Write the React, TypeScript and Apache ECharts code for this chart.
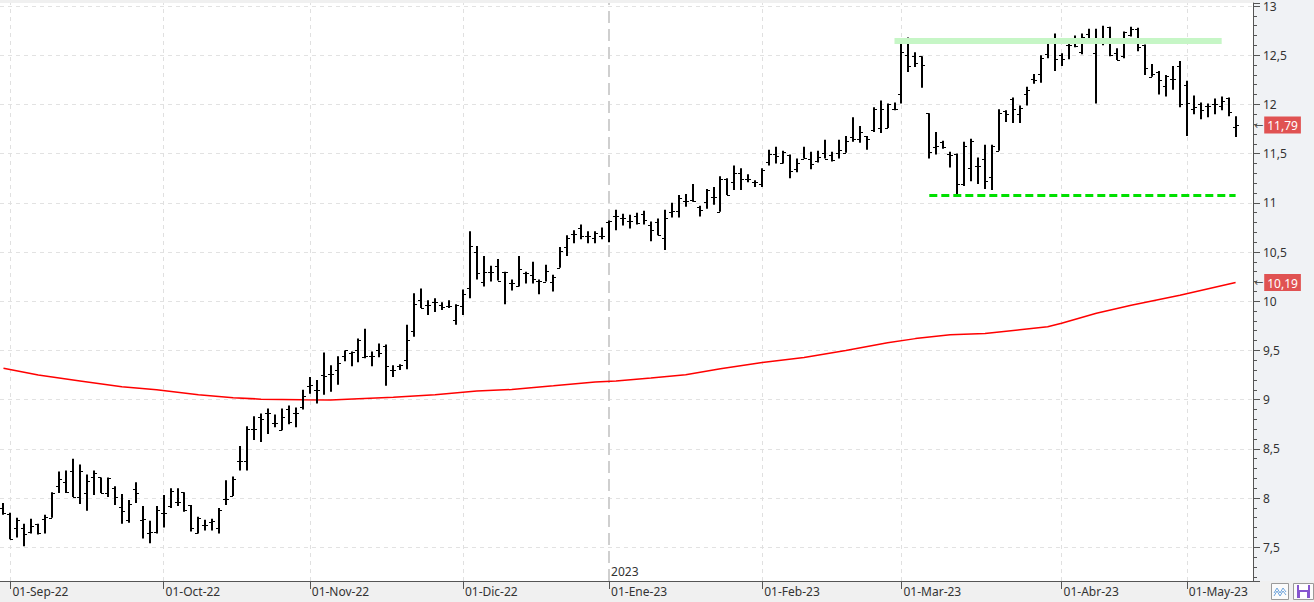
import { useEffect, useRef } from 'react';
import * as echarts from 'echarts';

// ---- OHLC data (one bar per trading day, starting 2022-08-31) ----
const opens = [7.9,7.84,7.7,7.7,7.66,7.74,7.79,7.8,8.12,8.16,8.27,8.01,8.05,8.21,8.21,8.05,8.1,7.91,7.78,8.09,7.78,7.64,7.66,7.85,7.92,7.96,8.06,7.93,7.64,7.73,7.76,7.7,7.99,8.02,8.38,8.38,8.7,8.82,8.86,8.76,8.69,8.9,8.86,8.93,9.14,9.1,9.25,9.26,9.3,9.44,9.47,9.5,9.43,9.44,9.5,9.55,9.3,9.34,9.4,9.7,10.01,9.96,9.99,9.96,9.95,9.81,9.95,10.13,10.5,10.2,10.3,10.36,10.3,10.19,10.15,10.29,10.27,10.21,10.2,10.2,10.34,10.55,10.68,10.74,10.66,10.64,10.66,10.81,10.87,10.85,10.82,10.87,10.89,10.77,10.81,10.64,10.91,10.92,11.02,11.03,10.96,11.01,11.06,10.91,11.24,11.21,11.3,11.24,11.21,11.19,11.41,11.5,11.4,11.49,11.34,11.45,11.45,11.43,11.51,11.49,11.51,11.51,11.67,11.65,11.68,11.74,11.76,11.76,11.95,12.11,12.5,12.49,12.49,11.91,11.57,11.62,11.5,11.5,11.19,11.35,11.37,11.45,11.26,11.53,11.93,12.06,11.9,12.11,12.26,12.31,12.51,12.66,12.5,12.6,12.64,12.53,12.72,12.52,12.65,12.79,12.52,12.49,12.71,12.77,12.6,12.28,12.33,12.19,12.26,12.39,12.2,11.95,12.0,11.98,12.0,11.98,12.07,11.77];
const highs = [7.95,7.85,7.8,7.74,7.79,7.74,7.83,8.06,8.27,8.28,8.4,8.34,8.24,8.28,8.21,8.21,8.12,8.04,7.98,8.16,7.92,7.77,7.92,8.03,8.1,8.1,8.06,7.93,7.81,7.78,7.79,7.9,8.18,8.22,8.53,8.73,8.83,8.86,8.91,8.85,8.91,8.94,8.92,9.1,9.23,9.2,9.48,9.35,9.44,9.5,9.49,9.62,9.72,9.49,9.57,9.56,9.35,9.36,9.76,10.08,10.13,10.01,10.03,9.99,10.01,9.97,10.12,10.71,10.56,10.46,10.36,10.43,10.3,10.22,10.46,10.3,10.4,10.22,10.37,10.27,10.55,10.67,10.72,10.78,10.71,10.71,10.75,10.82,10.93,10.89,10.88,10.9,10.92,10.81,10.84,10.93,11.0,11.08,11.09,11.19,10.97,11.14,11.16,11.27,11.25,11.38,11.35,11.29,11.23,11.35,11.54,11.57,11.53,11.49,11.45,11.57,11.52,11.53,11.64,11.52,11.64,11.68,11.87,11.78,11.68,11.97,12.04,12.01,12.02,12.63,12.68,12.53,12.49,11.91,11.72,11.63,11.52,11.5,11.62,11.65,11.46,11.59,11.59,11.95,11.94,12.07,11.99,12.18,12.31,12.5,12.67,12.72,12.52,12.64,12.7,12.72,12.77,12.77,12.8,12.79,12.57,12.74,12.79,12.78,12.61,12.41,12.34,12.3,12.39,12.44,12.24,12.09,12.02,12.01,12.06,12.08,12.07,11.88];
const lows = [7.83,7.58,7.6,7.51,7.64,7.63,7.64,7.8,8.05,8.05,8.01,7.94,7.87,8.03,8.05,8.01,7.93,7.74,7.75,7.95,7.59,7.54,7.64,7.7,7.9,7.92,7.86,7.66,7.64,7.67,7.67,7.64,7.93,8.02,8.28,8.28,8.59,8.57,8.65,8.72,8.69,8.75,8.72,8.9,9.06,8.96,9.05,9.08,9.15,9.39,9.34,9.38,9.42,9.34,9.43,9.14,9.23,9.3,9.31,9.64,9.93,9.86,9.89,9.91,9.93,9.76,9.86,10.03,10.22,10.15,10.2,10.21,9.97,10.11,10.15,10.18,10.18,10.07,10.2,10.1,10.34,10.46,10.59,10.63,10.59,10.59,10.63,10.6,10.72,10.77,10.74,10.78,10.78,10.61,10.67,10.52,10.85,10.85,10.96,11.01,10.86,10.94,10.98,10.91,11.08,11.13,11.13,11.21,11.16,11.16,11.38,11.4,11.4,11.25,11.31,11.45,11.34,11.41,11.45,11.42,11.45,11.51,11.62,11.61,11.54,11.72,11.71,11.76,11.94,12.01,12.33,12.38,12.17,11.45,11.49,11.55,11.36,11.08,11.17,11.22,11.19,11.14,11.13,11.53,11.82,11.81,11.81,11.99,12.21,12.22,12.47,12.34,12.39,12.46,12.58,12.51,12.65,12.01,12.6,12.49,12.45,12.47,12.69,12.54,12.3,12.28,12.1,12.08,12.15,11.97,11.68,11.9,11.85,11.87,11.9,11.94,11.88,11.67];
const closes = [7.85,7.58,7.78,7.63,7.72,7.64,7.81,8.05,8.19,8.06,8.01,8.27,8.17,8.25,8.05,8.2,8.01,7.87,7.94,8.05,7.79,7.65,7.88,7.85,8.07,7.96,7.88,7.7,7.8,7.73,7.77,7.88,7.99,8.19,8.38,8.7,8.7,8.8,8.86,8.76,8.82,8.77,8.86,9.04,9.15,9.1,9.24,9.26,9.37,9.5,9.48,9.61,9.44,9.44,9.47,9.34,9.3,9.35,9.61,9.97,9.93,9.96,9.99,9.94,9.95,9.96,10.07,10.56,10.29,10.3,10.3,10.21,10.3,10.19,10.33,10.29,10.23,10.21,10.31,10.25,10.51,10.64,10.68,10.66,10.66,10.69,10.66,10.82,10.87,10.85,10.82,10.79,10.83,10.72,10.67,10.85,10.92,11.05,11.02,11.02,10.93,11.13,11.06,11.24,11.08,11.3,11.24,11.24,11.21,11.33,11.5,11.48,11.52,11.32,11.4,11.46,11.39,11.47,11.45,11.44,11.54,11.63,11.65,11.72,11.65,11.95,11.95,12.0,11.95,12.53,12.39,12.42,12.4,11.52,11.58,11.57,11.49,11.19,11.58,11.63,11.37,11.22,11.58,11.91,11.9,11.95,11.96,12.15,12.25,12.47,12.62,12.46,12.46,12.6,12.59,12.68,12.67,12.63,12.65,12.5,12.45,12.74,12.77,12.58,12.37,12.31,12.25,12.29,12.26,12.0,12.01,11.97,11.94,11.98,12.0,12.03,11.92,11.79];

// ---- moving average (red line), read at selected bars ----
const maBars = [0,5,11,17,22,28,33,37,43,47,51,56,62,68,73,79,85,88,93,98,103,109,115,121,127,131,136,141,146,150,152,157,162,169,177];
const maValues = [9.32,9.25,9.19,9.13,9.1,9.05,9.02,9.005,9.0,8.997,9.01,9.023,9.05,9.087,9.103,9.14,9.18,9.19,9.22,9.253,9.313,9.377,9.427,9.5,9.577,9.62,9.66,9.673,9.71,9.74,9.777,9.877,9.96,10.06,10.19];

// ---- drawn levels ----
const resistanceLevel = 12.646;
const resistanceBars = [128, 175];
const supportLevel = 11.08;
const supportBars = [133, 177];

// ---- calendar ----
const firstDate = '2022-08-31';
const marketHolidays = ['2022-12-26', '2023-04-07', '2023-04-10', '2023-05-01'];
const extraSlots = 2;
const monthNames = ['Ene', 'Feb', 'Mar', 'Abr', 'May', 'Jun', 'Jul', 'Ago', 'Sep', 'Oct', 'Nov', 'Dic'];

const FONT = '"Noto Sans", "Open Sans", sans-serif';

function buildDates(start: string, count: number, skip: string[]): string[] {
  const out: string[] = [];
  const d = new Date(start + 'T00:00:00Z');
  while (out.length < count) {
    const wd = d.getUTCDay();
    const s = d.toISOString().slice(0, 10);
    if (wd !== 0 && wd !== 6 && !skip.includes(s)) out.push(s);
    d.setUTCDate(d.getUTCDate() + 1);
  }
  return out;
}

const fmt = (v: number) => String(Math.round(v * 100) / 100).replace('.', ',');

export default function App() {
  const ref = useRef<HTMLDivElement>(null);

  useEffect(() => {
    document.body.style.margin = '0';
    if (!ref.current) return;
    const chart = echarts.init(ref.current, undefined, { renderer: 'svg' });

    const nBars = opens.length;
    const dates = buildDates(firstDate, nBars + extraSlots, marketHolidays);
    const monthStarts = new Set<number>();
    let yearStart = -1;
    for (let i = 1; i < nBars; i++) {
      if (dates[i].slice(5, 7) !== dates[i - 1].slice(5, 7)) monthStarts.add(i);
      if (dates[i].slice(0, 4) !== dates[i - 1].slice(0, 4)) yearStart = i;
    }
    const ohlc = opens.map((o, i) => [i, o, highs[i], lows[i], closes[i]]);
    const maData = maBars.map((b, k) => [dates[b], maValues[k]]);
    const lastClose = closes[nBars - 1];
    const lastMa = maValues[maValues.length - 1];

    const tagLabel = (txt: string) => ({
      show: true,
      position: 'end',
      distance: 1,
      formatter: '{a|←}{b|' + txt + '}',
      rich: {
        a: { color: '#555', fontSize: 11, fontFamily: '"DejaVu Sans", sans-serif', padding: [0, 1, 0, 0] },
        b: { color: '#fff', backgroundColor: '#e05252', fontSize: 12, fontFamily: FONT, padding: [3, 3, 2, 3] },
      },
    });
    const hiddenLine = { color: 'rgba(0,0,0,0)', width: 1, type: 'solid' };

    const monthLines = Array.from(monthStarts).map((i) => ({
      xAxis: dates[i],
      lineStyle:
        i === yearStart
          ? { color: '#cfcfcf', width: 2, type: [12, 6] }
          : { color: '#e0e0e0', width: 1, type: [4, 4] },
    }));

    chart.setOption({
      animation: false,
      backgroundColor: '#f0f0f0',
      grid: { left: 0, right: 61, top: 0, bottom: 21, show: true, backgroundColor: '#ffffff', borderWidth: 0 },
      xAxis: {
        type: 'category',
        data: dates,
        boundaryGap: true,
        axisLine: { show: true, lineStyle: { color: '#555', width: 1 } },
        axisTick: {
          show: true,
          alignWithLabel: true,
          length: 8,
          interval: (idx: number) => monthStarts.has(idx),
          lineStyle: { color: '#555' },
        },
        axisLabel: {
          show: true,
          interval: (idx: number) => monthStarts.has(idx),
          hideOverlap: false,
          align: 'left',
          padding: [0, 0, 0, 2],
          margin: 4,
          color: '#333',
          fontSize: 12,
          fontFamily: FONT,
          formatter: (value: string, idx: number) =>
            monthStarts.has(idx) ? `01-${monthNames[+value.slice(5, 7) - 1]}-${value.slice(2, 4)}` : '',
        },
        splitLine: { show: false },
      },
      yAxis: {
        type: 'value',
        position: 'right',
        min: 7.157,
        max: 13.03,
        splitNumber: 12,
        scale: true,
        axisLine: { show: true, lineStyle: { color: '#555', width: 1 } },
        axisTick: { show: true, length: 7, lineStyle: { color: '#555' } },
        minorTick: { show: true, splitNumber: 5, length: 4, lineStyle: { color: '#555' } },
        axisLabel: {
          showMinLabel: false,
          showMaxLabel: false,
          margin: 10,
          color: '#333',
          fontSize: 12,
          fontFamily: FONT,
          formatter: (v: number) => fmt(v),
        },
        splitLine: { show: true, showMinLine: false, showMaxLine: false, lineStyle: { color: '#e2e2e2', type: [4, 4] } },
        minorSplitLine: { show: false },
      },
      graphic: [
        { type: 'rect', z: -10, shape: { x: 1254, y: 0, width: 60, height: 581 }, style: { fill: '#f0f2f5' } },
        { type: 'rect', shape: { x: 1271.5, y: 583.5, width: 17, height: 16 }, style: { fill: '#fbfbfb', stroke: '#9a9a9a', lineWidth: 1 } },
        { type: 'polyline', shape: { points: [[1274, 593], [1277, 588], [1280, 593], [1283, 588], [1286, 592]] }, style: { stroke: '#6ea4dc', lineWidth: 1, fill: 'none' } },
        { type: 'polyline', shape: { points: [[1274, 596], [1277, 591], [1280, 596], [1283, 591], [1286, 595]] }, style: { stroke: '#6ea4dc', lineWidth: 1, fill: 'none' } },
        { type: 'rect', shape: { x: 1293.5, y: 583.5, width: 20, height: 16 }, style: { fill: '#fbfbfb', stroke: '#9a9a9a', lineWidth: 1 } },
        { type: 'rect', shape: { x: 1297, y: 585, width: 13, height: 13 }, style: { fill: '#8655cf' } },
        { type: 'rect', shape: { x: 1299, y: 585, width: 9, height: 5 }, style: { fill: '#ffffff' } },
        { type: 'rect', shape: { x: 1300, y: 592, width: 7, height: 6 }, style: { fill: '#ffffff' } },
      ],
      series: [
        {
          name: 'grid',
          type: 'line',
          data: [],
          z: 1,
          silent: true,
          markLine: {
            silent: true,
            z: 1,
            symbol: ['none', 'none'],
            label: { show: false },
            data: monthLines,
          },
          markPoint: {
            silent: true,
            symbol: 'rect',
            symbolSize: 0,
            data: [
              {
                coord: [dates[yearStart], 7.253],
                label: { show: true, position: 'right', distance: 2, formatter: dates[yearStart].slice(0, 4), color: '#333', fontSize: 12, fontFamily: FONT },
              },
            ],
          },
        },
        {
          name: 'MA',
          type: 'line',
          data: maData,
          z: 2,
          showSymbol: false,
          symbol: 'none',
          lineStyle: { color: '#ff0000', width: 1.5 },
          silent: true,
          markLine: {
            silent: true,
            symbol: ['none', 'none'],
            lineStyle: hiddenLine,
            data: [{ yAxis: lastMa, lineStyle: hiddenLine, label: tagLabel(fmt(lastMa)) }],
          },
        },
        {
          name: 'Precio',
          type: 'custom',
          z: 3,
          data: ohlc,
          encode: { x: 0, y: [1, 2, 3, 4] },
          renderItem: (_params: any, api: any) => {
            const idx = api.value(0);
            const o = api.coord([idx, api.value(1)]);
            const h = api.coord([idx, api.value(2)]);
            const l = api.coord([idx, api.value(3)]);
            const c = api.coord([idx, api.value(4)]);
            const x = Math.round(o[0]);
            const st = { stroke: '#000', lineWidth: 2 };
            const tk = { stroke: '#000', lineWidth: 1 };
            const yo = Math.round(o[1]) + 0.5;
            const yc = Math.round(c[1]) + 0.5;
            return {
              type: 'group',
              children: [
                { type: 'line', shape: { x1: x, y1: h[1], x2: x, y2: l[1] }, style: st },
                { type: 'line', shape: { x1: x - 3, y1: yo, x2: x, y2: yo }, style: tk },
                { type: 'line', shape: { x1: x, y1: yc, x2: x + 3, y2: yc }, style: tk },
              ],
            };
          },
          markLine: {
            silent: true,
            symbol: ['none', 'none'],
            label: { show: false },
            data: [
              [
                { coord: [dates[resistanceBars[0]], resistanceLevel], lineStyle: { color: '#c6f6c6', width: 6, type: 'solid' } },
                { coord: [dates[resistanceBars[1]], resistanceLevel] },
              ],
              [
                { coord: [dates[supportBars[0]], supportLevel], lineStyle: { color: '#00e000', width: 3, type: [8, 4] } },
                { coord: [dates[supportBars[1]], supportLevel] },
              ],
              { yAxis: lastClose, lineStyle: hiddenLine, label: tagLabel(fmt(lastClose)) },
            ],
          },
        },
      ],
    });

    return () => chart.dispose();
  }, []);

  return <div ref={ref} style={{ width: 1314, height: 602 }} />;
}
